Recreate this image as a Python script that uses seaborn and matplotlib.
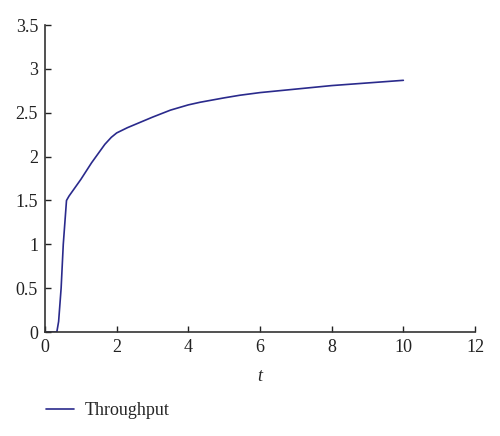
import numpy as np
import pandas as pd
import seaborn as sns
import matplotlib.pyplot as plt

# values
t_values = [0, 0.30, 0.33, 0.38, 0.45, 0.51, 0.60, 0.67, 1.0, 1.3, 1.67, 1.85,
            2.0, 2.3, 2.65, 3.0, 3.5, 4.0, 4.33, 5.0, 5.44, 6.0, 7.0, 8.0,
            9.0, 10.0]
throughput = [0, 0, 0, 0.12, 0.50, 1.0, 1.5, 1.55, 1.74, 1.93, 2.14, 2.22,
              2.27, 2.33, 2.39, 2.45, 2.53, 2.59, 2.62, 2.67, 2.70, 2.73, 2.77,
              2.81, 2.84, 2.87]
x_ticks = [0, 2, 4, 6, 8, 10, 12]
y_ticks = [0, 0.5, 1, 1.5, 2, 2.5, 3, 3.5]
y_tick_labels = ["0", "0.5", "1", "1.5", "2", "2.5", "3", "3.5"]

sns.set_style("ticks")
plt.rcParams['font.family'] = ['Liberation Serif', 'DejaVu Serif']
plt.rcParams['xtick.direction'] = 'in'
plt.rcParams['ytick.direction'] = 'in'

df = pd.DataFrame({"t": t_values, "Throughput": throughput})

fig = plt.figure(figsize=(5, 4.36), dpi=100)
ax = fig.add_axes([0.09, 0.2385, 0.86, 0.704])
sns.lineplot(data=df, x="t", y="Throughput", ax=ax, color="#2a2a8c",
             linewidth=1.2, label="Throughput")

ax.set_xlim(0, 12)
ax.set_ylim(0, 3.5)
ax.set_xticks(x_ticks)
ax.set_yticks(y_ticks)
ax.set_xticklabels([str(v) for v in x_ticks])
ax.set_yticklabels(y_tick_labels)
ax.tick_params(labelsize=13, length=4, width=1, colors="#222222", pad=5)
ax.set_xlabel("t", fontstyle="italic", fontsize=13, labelpad=9)
ax.set_ylabel("")
sns.despine(ax=ax)
for s in ax.spines.values():
    s.set_color("#333333")
    s.set_linewidth(1.2)

ax.legend(loc="upper left", bbox_to_anchor=(-0.035, -0.175), frameon=False,
          fontsize=13, handlelength=1.55, handletextpad=0.6)

fig.savefig("out.png", dpi=100)
